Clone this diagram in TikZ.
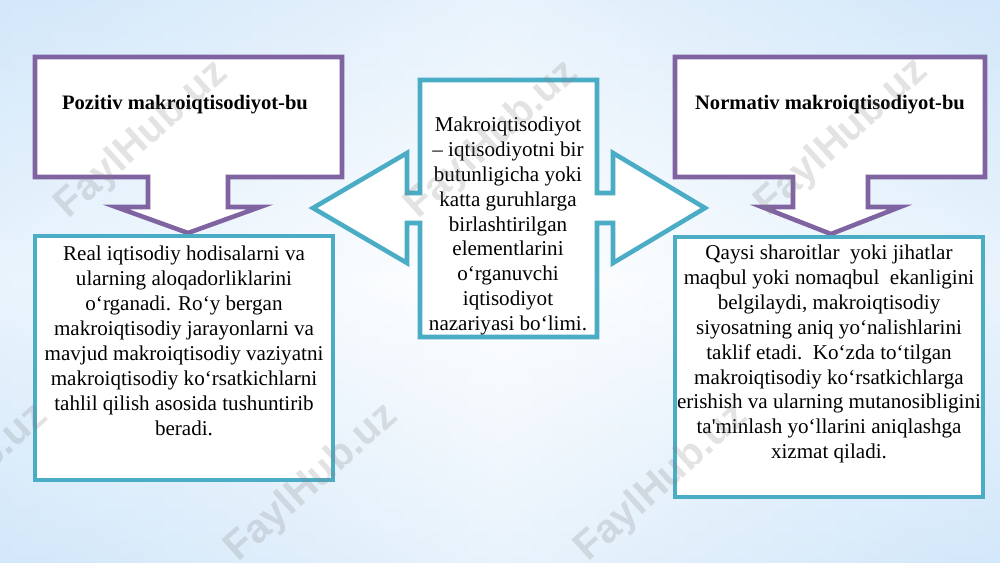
\documentclass[tikz,border=0pt]{standalone}
\usepackage{fontspec}
\setmainfont{Liberation Serif}
\newfontfamily\wmfont{Liberation Sans}
\usetikzlibrary{positioning}

\definecolor{calloutpurple}{HTML}{8064A2}
\definecolor{boxteal}{HTML}{4BACC6}
\definecolor{skyedge}{HTML}{9CCDF4}
\definecolor{skymid}{HTML}{D3E8FA}
\pgfdeclarehorizontalshading{skyshade}{100bp}{color(0bp)=(skyedge); color(25bp)=(skymid); color(50bp)=(white); color(75bp)=(skymid); color(100bp)=(skyedge)}

\tikzset{
  purpleshape/.style = {draw=calloutpurple, line width=2.6pt, fill=white},
  tealshape/.style = {draw=boxteal, line width=2.6pt, fill=white},
  titletext/.style = {font=\fontsize{11.7}{14}\selectfont\bfseries, inner sep=0pt},
  bodytext/.style = {align=center, font=\fontsize{12}{14.2}\selectfont, inner sep=0pt},
  watermark/.style = {font=\wmfont\bfseries\fontsize{23}{23}\selectfont, text=gray, opacity=0.22, rotate=42},
}

\begin{document}
\begin{tikzpicture}[x=0.02cm, y=-0.02cm]
    \useasboundingbox (0,0) rectangle (1000,562);
    \shade[shading=skyshade] (0,0) rectangle (1000,562);
    \shade[top color=skymid, bottom color=skymid, middle color=white, opacity=0.5] (0,0) rectangle (1000,562);

    % down callouts
    \draw[purpleshape] (35,57) -- (342,57) -- (342,177) -- (228,177) -- (228,207) -- (260,207)
      -- (188,233) -- (116,207) -- (148,207) -- (148,177) -- (35,177) -- cycle;
    \draw[purpleshape] (675,57) -- (985,57) -- (985,177) -- (868,177) -- (868,207) -- (900,207)
      -- (831,234) -- (762,207) -- (793,207) -- (793,177) -- (675,177) -- cycle;

    % left-right callout
    \draw[tealshape] (420,80) -- (597,80) -- (597,193) -- (613,193) -- (613,153) -- (705,208)
      -- (613,263) -- (613,223) -- (597,223) -- (597,337) -- (420,337) -- (420,223)
      -- (407,223) -- (407,263) -- (313,208) -- (407,153) -- (407,193) -- (420,193) -- cycle;

    \draw[tealshape] (35,236) rectangle (333,480);
    \draw[tealshape] (675,237) rectangle (983,497);

    \node[titletext] (postitle) at (185,105) {Pozitiv makroiqtisodiyot-bu};
    \node[titletext] (normtitle) at (830,105) {Normativ makroiqtisodiyot-bu};

    \node[bodytext] (centertext) at (508,226) {Makroiqtisodiyot\\ – iqtisodiyotni bir\\
      butunligicha yoki\\ katta guruhlarga\\ birlashtirilgan\\ elementlarini\\
      o‘rganuvchi\\ iqtisodiyot\\ nazariyasi bo‘limi.};
    \node[bodytext] (postext) at (184,341) {Real iqtisodiy hodisalarni va\\
      ularning aloqadorliklarini\\ o‘rganadi. Ro‘y bergan\\ makroiqtisodiy jarayonlarni va\\
      mavjud makroiqtisodiy vaziyatni\\ makroiqtisodiy ko‘rsatkichlarni\\
      tahlil qilish asosida tushuntirib\\ beradi.};
    \node[bodytext] (normtext) at (829,354) {Qaysi sharoitlar\ \ yoki jihatlar\\
      maqbul yoki nomaqbul\ \ ekanligini\\ belgilaydi, makroiqtisodiy\\
      siyosatning aniq yo‘nalishlarini\\ taklif etadi.\ \ Ko‘zda to‘tilgan\\
      makroiqtisodiy ko‘rsatkichlarga\\ erishish va ularning mutanosibligini\\
      ta\textquotesingle minlash yo‘llarini aniqlashga\\ xizmat qiladi.};

    % watermarks
    \foreach \wx/\wy [count=\wi] in {142/140, 492/140, 842/138, -38/483, 312/483, 662/483}
      \node[watermark] (mark\wi) at (\wx,\wy) {FaylHub.uz};
\end{tikzpicture}
\end{document}
